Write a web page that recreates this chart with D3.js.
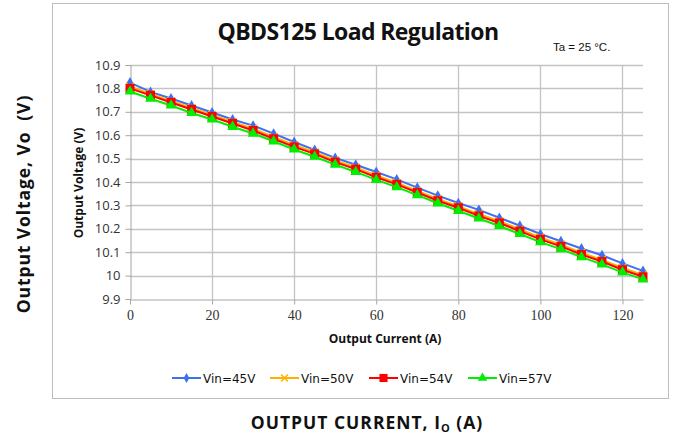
<!DOCTYPE html>
<html>
<head>
<meta charset="utf-8">
<script src="https://cdn.jsdelivr.net/npm/d3@7"></script>
<style>
  body { margin: 0; background: #fff; }
  svg { display: block; }
</style>
</head>
<body>
<div id="chart"></div>
<script>
// load current (A)
var current = [0,5,10,15,20,25,30,35,40,45,50,55,60,65,70,75,80,85,90,95,100,105,110,115,120,125];

// output voltage per input voltage
var vin45 = [10.825,10.785,10.757,10.727,10.697,10.667,10.641,10.607,10.571,10.537,10.503,10.474,10.443,10.411,10.376,10.342,10.310,10.281,10.247,10.213,10.178,10.147,10.116,10.087,10.052,10.020];
var vin50 = [10.808,10.776,10.746,10.716,10.687,10.657,10.628,10.593,10.558,10.527,10.492,10.462,10.428,10.397,10.362,10.328,10.297,10.263,10.232,10.198,10.163,10.132,10.098,10.067,10.033,10.003];
var vin54 = [10.800,10.770,10.740,10.710,10.680,10.650,10.620,10.585,10.550,10.520,10.485,10.455,10.420,10.390,10.355,10.320,10.290,10.255,10.225,10.190,10.155,10.125,10.090,10.060,10.025,9.995];
var vin57 = [10.787,10.756,10.727,10.695,10.667,10.636,10.607,10.574,10.539,10.508,10.474,10.443,10.409,10.378,10.344,10.309,10.277,10.244,10.212,10.178,10.143,10.113,10.079,10.048,10.014,9.984];

var seriesNames = ['Vin=45V','Vin=50V','Vin=54V','Vin=57V'];
var xTicks = [0,20,40,60,80,100,120];
var yTicks = [9.9,10,10.1,10.2,10.3,10.4,10.5,10.6,10.7,10.8,10.9];

var W = 673, H = 437;
var svg = d3.select('#chart').append('svg').attr('width', W).attr('height', H);

// chart frame
svg.append('rect').attr('x', 52.5).attr('y', 3.5).attr('width', 616).attr('height', 395)
  .attr('fill', '#fff').attr('stroke', '#bdbdbd').attr('stroke-width', 1);

var x = d3.scaleLinear().domain([0,125]).range([130, 643]);
var y = d3.scaleLinear().domain([9.9,10.9]).range([299, 65]);

// grid
var g = svg.append('g');
g.selectAll('line.h').data(yTicks.slice(1)).enter().append('line')
  .attr('x1', x(0)).attr('x2', x(125))
  .attr('y1', function(d){ return Math.round(y(d))+0.5; })
  .attr('y2', function(d){ return Math.round(y(d))+0.5; })
  .attr('stroke', '#c4c4c4').attr('stroke-width', 1.3);
g.selectAll('line.v').data(xTicks.slice(1)).enter().append('line')
  .attr('x1', function(d){ return Math.round(x(d))+0.5; })
  .attr('x2', function(d){ return Math.round(x(d))+0.5; })
  .attr('y1', y(10.9)).attr('y2', y(9.9))
  .attr('stroke', '#c4c4c4').attr('stroke-width', 1.3);

// axes
var yAxis = svg.append('g').attr('transform', 'translate(' + (x(0)+0.5) + ',0)')
  .call(d3.axisLeft(y).tickValues(yTicks).tickSize(5).tickPadding(5)
    .tickFormat(function(d){ return d3.format('')(+d.toFixed(1)); }));
yAxis.select('.domain').attr('stroke', '#a6a6a6');
yAxis.selectAll('line').attr('stroke', '#a6a6a6');
yAxis.selectAll('text').attr('font-family', 'Open Sans, sans-serif').attr('font-size', 13).attr('fill', '#333');

var xAxis = svg.append('g').attr('transform', 'translate(0,' + (y(9.9)+0.5) + ')')
  .call(d3.axisBottom(x).tickValues(xTicks).tickSize(5).tickPadding(6).tickSizeOuter(0));
xAxis.select('.domain').attr('stroke', '#a6a6a6');
xAxis.selectAll('line').attr('stroke', '#a6a6a6');
xAxis.selectAll('text').attr('font-family', 'Liberation Serif, serif').attr('font-size', 14).attr('fill', '#333');

// series
var colors = ['#3f6ff2','#ffb000','#ff0000','#00ee00'];
var data = [vin45, vin50, vin54, vin57];
var line = d3.line().x(function(d,i){ return x(current[i]); }).y(function(d){ return y(d); });

function drawMarker(sel, k, cx, cy, scale) {
  var s = scale || 1;
  if (k === 0) {
    sel.append('path').attr('d', d3.symbol(d3.symbolDiamond, 34*s*s)())
      .attr('transform', 'translate(' + cx + ',' + cy + ')').attr('fill', colors[k]);
  } else if (k === 1) {
    sel.append('path').attr('d', d3.symbol(d3.symbolTimes, 40*s*s)())
      .attr('transform', 'translate(' + cx + ',' + cy + ')')
      .attr('fill', 'none').attr('stroke', colors[k]).attr('stroke-width', 1.5);
  } else if (k === 2) {
    sel.append('rect').attr('x', cx-4.5*s).attr('y', cy-4.5*s).attr('width', 9*s).attr('height', 9*s)
      .attr('fill', colors[k]);
  } else {
    sel.append('path').attr('d', d3.symbol(d3.symbolTriangle, 50*s*s)())
      .attr('transform', 'translate(' + cx + ',' + cy + ')').attr('fill', colors[k]);
  }
}

data.forEach(function(vals, k) {
  var sg = svg.append('g');
  sg.append('path').datum(vals).attr('d', line)
    .attr('fill', 'none').attr('stroke', colors[k]).attr('stroke-width', 2);
  vals.forEach(function(v, i) { drawMarker(sg, k, x(current[i]), y(v)); });
});

// titles
svg.append('text').attr('x', 358).attr('y', 40).attr('text-anchor', 'middle')
  .attr('font-family', 'Open Sans, sans-serif').attr('font-weight', 'bold').attr('font-size', 23)
  .attr('letter-spacing', -0.6)
  .attr('fill', '#111').text('QBDS125 Load Regulation');
svg.append('text').attr('x', 553).attr('y', 51)
  .attr('font-family', 'Liberation Sans, Arial, sans-serif').attr('font-size', 11.5)
  .attr('fill', '#111').text('Ta = 25 \u00B0C.');

svg.append('text').attr('x', 385).attr('y', 343).attr('text-anchor', 'middle')
  .attr('font-family', 'Open Sans, sans-serif').attr('font-weight', 'bold').attr('font-size', 12)
  .attr('fill', '#111').text('Output Current (A)');
svg.append('text').attr('transform', 'translate(83,183) rotate(-90)').attr('text-anchor', 'middle')
  .attr('font-family', 'Open Sans, sans-serif').attr('font-weight', 'bold').attr('font-size', 12)
  .attr('fill', '#111').text('Output Voltage (V)');

// legend
var legendX = [172, 270, 369, 468];
seriesNames.forEach(function(name, k) {
  var lg = svg.append('g');
  var ly = 378;
  lg.append('line').attr('x1', legendX[k]).attr('x2', legendX[k]+29).attr('y1', ly).attr('y2', ly)
    .attr('stroke', colors[k]).attr('stroke-width', 2);
  drawMarker(lg, k, legendX[k]+14.5, ly, 0.9);
  lg.append('text').attr('x', legendX[k]+31).attr('y', ly+5)
    .attr('font-family', 'DejaVu Sans, sans-serif').attr('font-size', 12)
    .attr('fill', '#111').text(name);
});

// outer labels
svg.append('text').attr('transform', 'translate(30,204) rotate(-90)').attr('text-anchor', 'middle')
  .attr('font-family', 'Open Sans, sans-serif').attr('font-weight', 'bold').attr('font-size', 17.5)
  .attr('letter-spacing', 0.9)
  .attr('fill', '#111').attr('xml:space', 'preserve').text('Output Voltage, Vo  (V)');
var bt = svg.append('text').attr('x', 367).attr('y', 429).attr('text-anchor', 'middle')
  .attr('font-family', 'Open Sans, sans-serif').attr('font-weight', 'bold').attr('font-size', 17.5)
  .attr('letter-spacing', 1)
  .attr('fill', '#111');
bt.append('tspan').text('OUTPUT CURRENT, I');
bt.append('tspan').attr('font-size', 11).attr('dy', 3).text('O');
bt.append('tspan').attr('dy', -3).text(' (A)');
</script>
</body>
</html>
